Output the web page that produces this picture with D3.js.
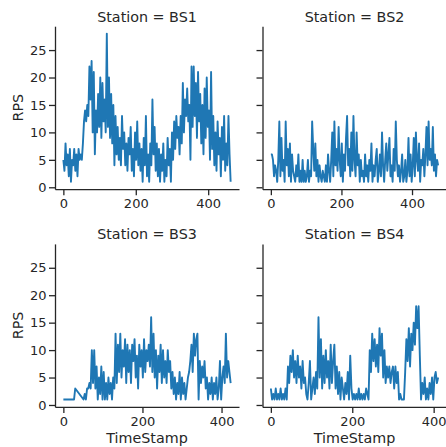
<!DOCTYPE html>
<html>
<head>
  <meta charset="utf-8">
  <title>RPS by station</title>
  <script src="https://d3js.org/d3.v7.min.js"></script>
  <style>
    body { margin: 0; background: #fff; }
    text { font-family: "DejaVu Sans", sans-serif; fill: #262626; }
    .axis path, .axis line { stroke: #262626; stroke-width: 1.3; }
    .axis text { font-size: 13px; }
    .series { fill: none; stroke: #1f77b4; stroke-width: 1.9; stroke-linejoin: round; }
  </style>
</head>
<body>
<div id="chart"></div>
<script>
// stations shown in the facet grid
var stations = ["BS1", "BS2", "BS3", "BS4"];

var bs1Time = d3.range(0, 463, 3);
var bs1Rps = [
  5,3,8,4,6,2,7,1,5,4,
  7,3,6,2,7,5,6,5,8,12,
  14,12,15,13,22,16,23,10,21,6,
  14,10,17,11,20,9,19,12,16,10,
  28,11,20,9,17,8,15,4,13,6,
  11,5,9,4,13,7,10,4,8,3,
  9,6,11,3,7,2,10,5,12,4,
  8,3,7,1,9,4,13,2,6,1,
  8,4,16,6,11,3,8,2,7,1,
  6,3,8,1,5,2,9,4,7,1,
  10,5,12,7,13,9,11,6,13,8,
  19,10,16,13,18,12,15,5,22,11,
  22,13,19,9,21,12,17,8,15,6,
  18,9,20,11,14,5,21,7,13,4,
  10,3,12,6,9,2,11,5,13,3,
  8,4,13,6,1
];

var bs2Time = d3.range(0, 475, 3);
var bs2Rps = [
  6,6,5,2,4,3,1,5,12,2,
  9,3,5,1,12,4,7,2,8,1,
  6,3,2,1,4,2,6,1,3,1,
  5,1,3,1,2,5,1,3,2,12,
  7,3,8,2,5,1,4,2,1,3,
  2,1,4,1,6,3,1,5,10,2,
  12,4,7,3,11,5,2,8,1,6,
  3,9,13,4,7,2,10,3,13,5,
  2,10,4,6,1,5,2,3,1,6,
  2,4,1,5,3,8,1,4,2,5,
  7,1,3,6,2,10,4,1,5,8,
  3,6,9,2,4,1,7,3,12,5,
  2,4,1,3,6,1,2,5,1,3,
  9,2,6,1,4,9,2,10,5,3,
  8,1,5,4,7,2,6,11,4,12,
  5,7,4,11,3,6,2,5,4
];

// BS3 has a gap in its log between t=30 and t=51
var bs3Time = d3.range(0, 31, 3).concat(d3.range(51, 424, 3));
var bs3Rps = [
  1,1,1,1,1,1,1,1,1,1,3,
  1,2,1,3,3,4,3,10,4,10,
  3,7,1,5,2,7,1,6,1,4,
  1,5,2,4,1,5,3,13,4,11,
  6,13,5,10,7,12,4,11,6,10,
  4,11,8,12,5,9,3,11,7,10,
  5,12,6,10,8,11,7,16,6,13,
  5,10,3,9,6,11,4,10,5,8,
  4,10,6,8,3,6,2,5,1,4,
  2,6,1,5,2,4,1,3,5,6,
  8,11,6,13,9,12,13,1,8,4,
  7,5,8,3,5,1,4,2,5,1,
  4,2,5,1,3,8,1,5,7,4,
  13,5,8,6,4
];

var bs4Time = d3.range(0, 412, 3);
var bs4Rps = [
  3,1,2,1,3,1,2,1,3,1,
  2,1,3,1,7,4,9,6,10,5,
  8,4,9,5,7,3,8,4,5,2,
  1,4,8,1,3,5,2,6,3,16,
  5,12,3,9,4,10,5,8,3,11,
  4,8,11,3,7,2,6,1,5,3,
  1,4,2,6,1,9,3,1,2,1,
  2,1,3,1,2,1,2,1,3,2,
  1,10,6,13,8,12,7,11,6,14,
  9,13,5,10,4,7,5,7,4,6,
  7,3,7,4,6,1,2,1,1,1,
  6,12,8,14,7,13,10,15,11,18,
  14,18,9,1,4,2,5,1,3,1,
  4,2,5,1,5,6,4,5
];

var yTicks = [0, 5, 10, 15, 20, 25];
var xTicks = [0, 200, 400];

var times = [bs1Time, bs2Time, bs3Time, bs4Time];
var values = [bs1Rps, bs2Rps, bs3Rps, bs4Rps];

// grid layout (pixels)
var W = 446, H = 447;
var panelW = 184, panelH = 163;
var colX = [55, 262.5];
var rowY = [26.2, 243.9];

var svg = d3.select("#chart").append("svg")
    .attr("width", W)
    .attr("height", H);

// matplotlib style 5% margins
function padded(ext) {
  var m = (ext[1] - ext[0]) * 0.05;
  return [ext[0] - m, ext[1] + m];
}

// y shared across all facets
var allVals = d3.merge(values);
var y = d3.scaleLinear()
    .domain(padded(d3.extent(allVals)))
    .range([panelH, 0]);

stations.forEach(function(name, i) {
  var col = i % 2, row = Math.floor(i / 2);
  var g = svg.append("g")
      .attr("transform", "translate(" + colX[col] + "," + rowY[row] + ")");

  var x = d3.scaleLinear()
      .domain(padded(d3.extent(times[i])))
      .range([0, panelW]);

  var pts = times[i].map(function(t, j) { return [t, values[i][j]]; });

  g.append("path")
      .datum(pts)
      .attr("class", "series")
      .attr("d", d3.line()
        .x(function(d) { return x(d[0]); })
        .y(function(d) { return y(d[1]); }));

  var yAxis = d3.axisLeft(y).tickValues(yTicks).tickSize(6).tickSizeOuter(0).tickPadding(2.5);
  if (col == 1) yAxis.tickFormat("");
  g.append("g").attr("class", "axis").call(yAxis);

  g.append("g")
      .attr("class", "axis")
      .attr("transform", "translate(0," + panelH + ")")
      .call(d3.axisBottom(x).tickValues(xTicks).tickSize(6).tickSizeOuter(0).tickPadding(4));

  g.selectAll(".axis text").attr("fill", "#262626");

  g.append("text")
      .attr("x", panelW / 2)
      .attr("y", -4.7)
      .attr("text-anchor", "middle")
      .style("font-size", "14.3px")
      .text("Station = " + name);

  if (col == 0) {
    g.append("text")
        .attr("transform", "translate(" + (22.5 - colX[0]) + "," + (panelH / 2) + ") rotate(-90)")
        .attr("text-anchor", "middle")
        .style("font-size", "14.3px")
        .text("RPS");
  }
  if (row == 1) {
    g.append("text")
        .attr("x", panelW / 2)
        .attr("y", 443 - rowY[1])
        .attr("text-anchor", "middle")
        .style("font-size", "14.3px")
        .text("TimeStamp");
  }
});
</script>
</body>
</html>
